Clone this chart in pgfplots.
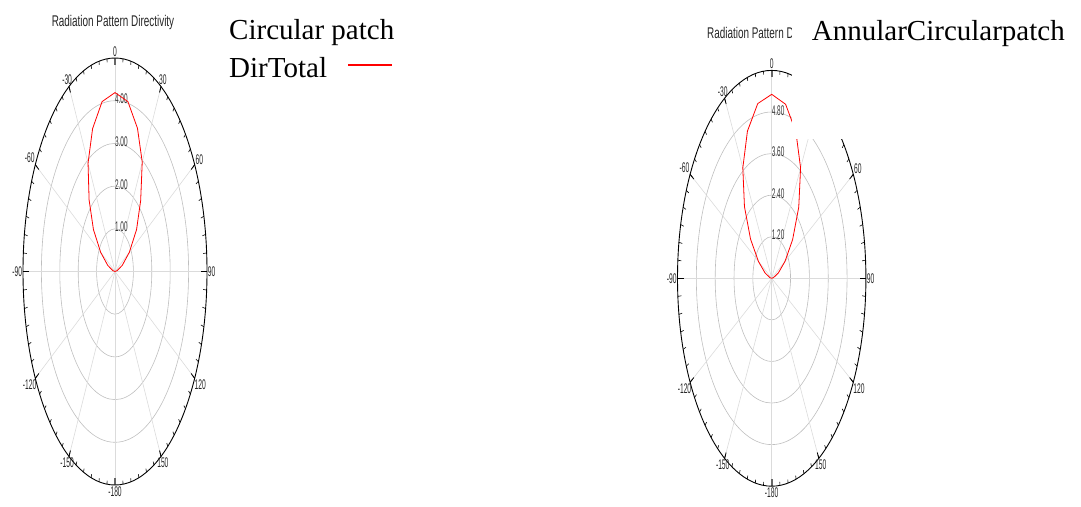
\documentclass[border=0pt]{standalone}
\usepackage{pgfplots}
\pgfplotsset{compat=1.18}
\usepackage{pgfplotstable}
\usepackage{fontspec}
\setmainfont{Liberation Serif}
\newfontfamily\narrow{Liberation Sans}
\usetikzlibrary{calc}

\pgfplotstableread{
a r
-90 0.00
-80 0.12
-70 0.42
-60 0.90
-50 1.53
-40 2.19
-30 2.93
-20 3.56
-10 4.04
0 4.19
10 4.04
20 3.57
30 2.96
40 2.17
50 1.53
60 0.90
70 0.42
80 0.12
90 0.00
}\leftdata

\pgfplotstableread{
a r
-90 0.00
-80 0.12
-70 0.45
-60 0.98
-50 1.76
-40 2.70
-30 3.68
-20 4.52
-10 5.12
0 5.31
10 5.10
20 4.50
30 3.68
40 2.68
50 1.74
60 0.98
70 0.45
80 0.12
90 0.00
}\rightdata

\tikzset{
  albl/.style={font=\narrow\fontsize{14}{14}\selectfont, xscale=0.48, inner sep=1.6pt, text=black!85},
  rlbl/.style={font=\narrow\fontsize{14}{14}\selectfont, xscale=0.46, inner sep=0pt, text=black!80, anchor=west, yshift=1.8pt},
  ttl/.style={font=\narrow\fontsize{15.5}{15.5}\selectfont, xscale=0.64, inner sep=0pt, text=black!85},
  leg/.style={font=\fontsize{29}{29}\selectfont, inner sep=0pt, anchor=base west}
}

% #1 = outer radius
\newcommand{\polarframe}[1]{%
  \pgfplotsinvokeforeach{0,30,...,150}{%
    \draw[gray!28, line width=0.6pt] (axis cs:{#1*sin(##1)},{#1*cos(##1)}) -- (axis cs:{-#1*sin(##1)},{-#1*cos(##1)});}
  \pgfplotsinvokeforeach{5,10,...,355}{%
    \draw[black, line width=0.6pt] (axis cs:{#1*sin(##1)},{#1*cos(##1)}) -- ($(axis cs:{#1*sin(##1)},{#1*cos(##1)})!3.5pt!(axis cs:0,0)$);}
  \pgfplotsinvokeforeach{30,60,90,120,150,210,240,270,300,330}{%
    \draw[black, line width=0.8pt] (axis cs:{#1*sin(##1)},{#1*cos(##1)}) -- ($(axis cs:{#1*sin(##1)},{#1*cos(##1)})!6pt!(axis cs:0,0)$);}
  \pgfplotsinvokeforeach{0,180}{%
    \draw[black!60, line width=1.6pt] (axis cs:{#1*sin(##1)},{#1*cos(##1)}) -- ($(axis cs:{#1*sin(##1)},{#1*cos(##1)})!7pt!(axis cs:0,0)$);}
  \draw[black, line width=0.9pt] (axis cs:0,0) ellipse [x radius=#1, y radius=#1];
  \alab{#1}{0}{south}{0}
  \alab{#1}{30}{240}{30}
  \alab{#1}{60}{210}{60}
  \alab{#1}{90}{west}{90}
  \alab{#1}{120}{150}{120}
  \alab{#1}{150}{120}{150}
  \alab{#1}{180}{north}{-180}
  \alab{#1}{-150}{60}{-150}
  \alab{#1}{-120}{30}{-120}
  \alab{#1}{-90}{east}{-90}
  \alab{#1}{-60}{-30}{-60}
  \alab{#1}{-30}{-60}{-30}
}
\newcommand{\alab}[4]{\node[albl, anchor=#3] at (axis cs:{#1*sin(#2)},{#1*cos(#2)}) {#4};}

\begin{document}
\begin{tikzpicture}[x=1pt,y=1pt]
\path[use as bounding box] (0pt,0pt) rectangle (1081pt,-506pt);

% ---------- left plot ----------
\begin{axis}[at={(115pt,-271.5pt)}, anchor=center, scale only axis,
  width=184pt, height=427pt, xmin=-5, xmax=5, ymin=-5, ymax=5,
  hide axis, clip=false]
  \foreach \rr in {1,2,3,4}{\edef\tmp{\noexpand\draw[gray!50, line width=0.6pt] (axis cs:0,0) ellipse [x radius=\rr, y radius=\rr];}\tmp}
  \polarframe{5}
  \node[rlbl] at (axis cs:0,1) {1.00};
  \node[rlbl] at (axis cs:0,2) {2.00};
  \node[rlbl] at (axis cs:0,3) {3.00};
  \node[rlbl] at (axis cs:0,4) {4.00};
  \addplot[red, line width=0.8pt, mark=none, data cs=polar] table[x expr={90-\thisrow{a}}, y=r] {\leftdata};
\end{axis}

% ---------- right plot ----------
\begin{axis}[at={(771.7pt,-278.3pt)}, anchor=center, scale only axis,
  width=188.4pt, height=415.8pt, xmin=-6, xmax=6, ymin=-6, ymax=6,
  hide axis, clip=false]
  \foreach \rr in {1.2,2.4,3.6,4.8}{\edef\tmp{\noexpand\draw[gray!50, line width=0.6pt] (axis cs:0,0) ellipse [x radius=\rr, y radius=\rr];}\tmp}
  \polarframe{6}
  \node[rlbl] at (axis cs:0,1.2) {1.20};
  \node[rlbl] at (axis cs:0,2.4) {2.40};
  \node[rlbl] at (axis cs:0,3.6) {3.60};
  \node[rlbl] at (axis cs:0,4.8) {4.80};
  \addplot[red, line width=0.8pt, mark=none, data cs=polar] table[x expr={90-\thisrow{a}}, y=r] {\rightdata};
\end{axis}

% titles
\node[ttl] at (113pt,-22pt) {Radiation Pattern Directivity};
\node[ttl, anchor=west] at (707pt,-33pt) {Radiation Pattern D};

% occluding white patch on the right plot
\fill[white] (792pt,2pt) rectangle (850pt,-139pt);

% legend texts
\node[leg] at (229pt,-39.3pt) {Circular patch};
\node[leg] at (229pt,-77.3pt) {DirTotal};
\draw[red, line width=1.5pt] (348pt,-65pt) -- (392pt,-65pt);
\node[leg] at (811.7pt,-40pt) {AnnularCircularpatch};
\end{tikzpicture}
\end{document}
